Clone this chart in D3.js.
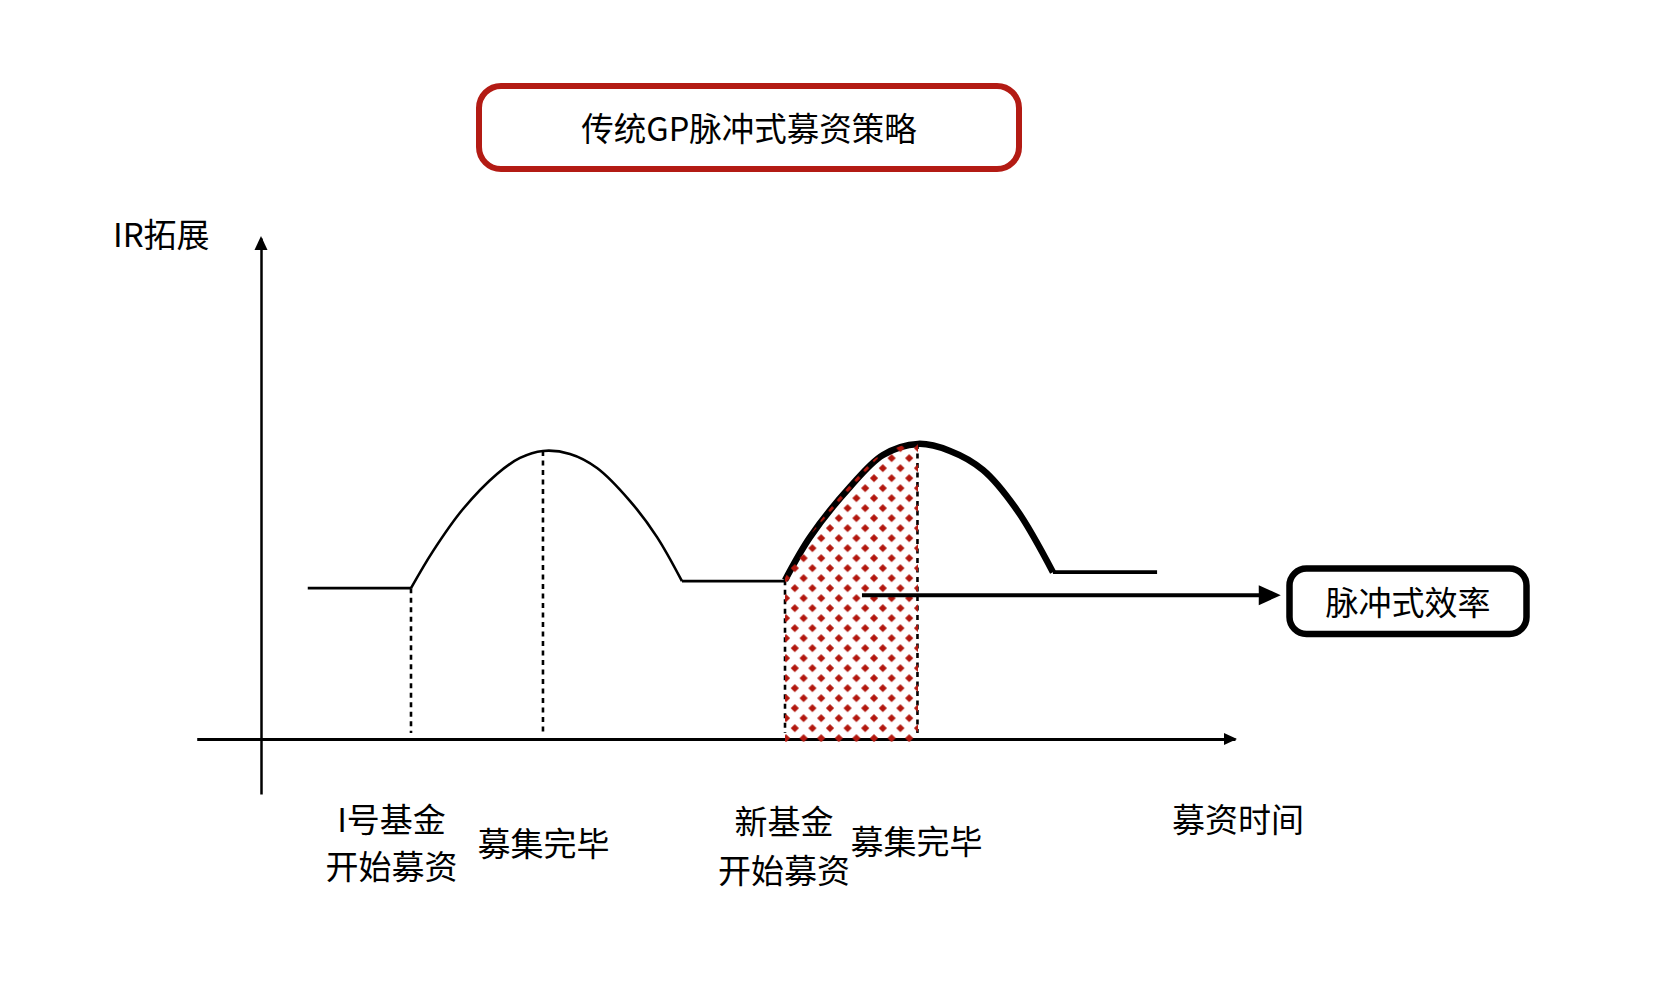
<!DOCTYPE html>
<html>
<head>
<meta charset="utf-8">
<script src="https://cdn.jsdelivr.net/npm/d3@7"></script>
<style>
  html, body { margin: 0; padding: 0; background: #ffffff; }
  svg { display: block; }
  text { font-family: "Noto Sans CJK SC", "Noto Sans", sans-serif; fill: #000; font-weight: 400; }
</style>
</head>
<body>
<script>
// ---------- data (time units on x, IR expansion level on y) ----------
const flat1 = [[4.8, 30.1], [15.4, 30.1]];
const hump1 = [[15.4, 30.1], [17.66, 37.5], [20.74, 45.9], [24.23, 52.9], [26.59, 56.1], [28.95, 57.5],
               [31.72, 56.9], [34.5, 54.1], [37.89, 47.5], [40.66, 40.3], [43.22, 31.5]];
const flat2 = [[43.22, 31.5], [53.8, 31.5]];
const hump2 = [[53.8, 31.7], [56.37, 40.3], [60.47, 50.3], [63.86, 56.7], [67.45, 58.9],
               [70.74, 57.5], [74.13, 53.7], [77.62, 45.7], [81.31, 33.3]];
const flat3 = [[81.31, 33.3], [92.0, 33.3]];
const markerTimes = [15.4, 28.95, 53.8, 67.4];
const markerLevels = [30.1, 57.5, 31.7, 58.9];
const shadedEnd = 67.45;
const efficiencyArrow = [[61.7, 28.7], [104.7, 28.7]];

const titleText = "传统GP脉冲式募资策略";
const yAxisTitle = "IR拓展";
const xAxisTitle = "募资时间";
const boxText = "脉冲式效率";
const eventLabels = [
  { t: 13.4, lines: ["I号基金", "开始募资"], dy: [79, 126] },
  { t: 29.0, lines: ["募集完毕"], dy: [103] },
  { t: 53.7, lines: ["新基金", "开始募资"], dy: [81, 130] },
  { t: 67.3, lines: ["募集完毕"], dy: [101] }
];

// ---------- layout ----------
const W = 1654, H = 984;
const svg = d3.select("body").append("svg").attr("width", W).attr("height", H);

const x = d3.scaleLinear().domain([0, 100]).range([261, 1235]);
const y = d3.scaleLinear().domain([0, 100]).range([739, 238]);

const defs = svg.append("defs");
const pw = 17.6, ph = 20, r = 4.1;
const pat = defs.append("pattern")
  .attr("id", "dots").attr("patternUnits", "userSpaceOnUse")
  .attr("width", pw).attr("height", ph)
  .attr("x", x(53.8) + 1).attr("y", y(31.7) - 2);
const diamond = (cx, cy) => `M${cx},${cy - r}L${cx + r},${cy}L${cx},${cy + r}L${cx - r},${cy}Z`;
pat.append("path").attr("d", diamond(0, 0) + diamond(pw, 0) + diamond(0, ph) + diamond(pw, ph) + diamond(pw / 2, ph / 2))
  .attr("fill", "#b3180f");

// ---------- axes (library axes without ticks) ----------
const xAxisScale = x.copy().domain([-6.6, 100]).range([x(-6.6), x(100)]);
const yAxisScale = y.copy().domain([-11, 100]).range([y(-11), y(100)]);

svg.append("g").attr("transform", `translate(0,${y(0)})`)
  .call(d3.axisBottom(xAxisScale).tickValues([]).tickSizeOuter(0))
  .call(g => g.select(".domain").attr("stroke", "#000").attr("stroke-width", 3));
svg.append("g").attr("transform", `translate(${x(0)},0)`)
  .call(d3.axisLeft(yAxisScale).tickValues([]).tickSizeOuter(0))
  .call(g => g.select(".domain").attr("stroke", "#000").attr("stroke-width", 2.5));

// arrowheads
const xt = x(100), yt0 = y(0);
svg.append("path").attr("d", `M${xt + 2},${yt0}L${xt - 11},${yt0 - 6}L${xt - 11},${yt0 + 6}Z`).attr("fill", "#000");
const yx = x(0), yt = y(100);
svg.append("path").attr("d", `M${yx},${yt - 2}L${yx - 6.5},${yt + 12}L${yx + 6.5},${yt + 12}Z`).attr("fill", "#000");

// ---------- dashed markers ----------
svg.selectAll("line.marker").data(markerTimes).join("line")
  .attr("class", "marker")
  .attr("x1", d => x(d)).attr("x2", d => x(d))
  .attr("y1", (d, i) => y(markerLevels[i])).attr("y2", y(0) - 6)
  .attr("stroke", "#000").attr("stroke-width", 2.6).attr("stroke-dasharray", "5,4.5");

// ---------- curves ----------
const lineGen = d3.line().x(d => x(d[0])).y(d => y(d[1])).curve(d3.curveCatmullRom.alpha(0.5));
const straight = d3.line().x(d => x(d[0])).y(d => y(d[1]));

svg.append("path").attr("d", straight(flat1)).attr("fill", "none").attr("stroke", "#000").attr("stroke-width", 2.8);
svg.append("path").attr("d", lineGen(hump1)).attr("fill", "none").attr("stroke", "#000").attr("stroke-width", 2.6);
svg.append("path").attr("d", straight(flat2)).attr("fill", "none").attr("stroke", "#000").attr("stroke-width", 2.8);
svg.append("path").attr("d", lineGen(hump2)).attr("fill", "none").attr("stroke", "#000").attr("stroke-width", 6.5).attr("stroke-linejoin", "round");
svg.append("path").attr("d", straight(flat3)).attr("fill", "none").attr("stroke", "#000").attr("stroke-width", 3.6);

// ---------- shaded area under rising part of new fund ----------
const riseData = hump2.filter(d => d[0] <= shadedEnd);
const areaGen = d3.area().x(d => x(d[0])).y0(y(0) + 3).y1(d => y(d[1]) - 2).curve(d3.curveCatmullRom.alpha(0.5));
svg.append("path").attr("d", areaGen(riseData)).attr("fill", "url(#dots)");

// ---------- efficiency arrow ----------
const a0 = efficiencyArrow[0], a1 = efficiencyArrow[1];
const ax0 = x(a0[0]), ax1 = x(a1[0]), ay = y(a0[1]);
svg.append("line").attr("x1", ax0).attr("x2", ax1 - 20).attr("y1", ay).attr("y2", ay)
  .attr("stroke", "#000").attr("stroke-width", 4);
svg.append("path").attr("d", `M${ax1},${ay}L${ax1 - 22},${ay - 10}L${ax1 - 22},${ay + 10}Z`).attr("fill", "#000");

// efficiency box
svg.append("rect").attr("x", 1289.5).attr("y", 568.5).attr("width", 237).attr("height", 65.5)
  .attr("rx", 17).attr("fill", "#fff").attr("stroke", "#000").attr("stroke-width", 6.5);
svg.append("text").attr("x", 1408).attr("y", 601).attr("text-anchor", "middle")
  .attr("dominant-baseline", "central").attr("font-size", 33).text(boxText);

// ---------- title box ----------
svg.append("rect").attr("x", 479).attr("y", 86).attr("width", 540).attr("height", 83)
  .attr("rx", 22).attr("fill", "#fff").attr("stroke", "#b31b14").attr("stroke-width", 6);
svg.append("text").attr("x", 749).attr("y", 126).attr("text-anchor", "middle")
  .attr("dominant-baseline", "central").attr("font-size", 32.5).text(titleText);

// ---------- axis titles ----------
svg.append("text").attr("x", 113).attr("y", 233).attr("dominant-baseline", "central")
  .attr("font-size", 33).text(yAxisTitle);
svg.append("text").attr("x", 1238).attr("y", 818).attr("text-anchor", "middle")
  .attr("dominant-baseline", "central").attr("font-size", 33).text(xAxisTitle);

// ---------- event labels ----------
eventLabels.forEach(l => {
  l.lines.forEach((s, i) => {
    svg.append("text").attr("x", x(l.t)).attr("y", y(0) + l.dy[i])
      .attr("text-anchor", "middle").attr("dominant-baseline", "central")
      .attr("font-size", 33).text(s);
  });
});
</script>
</body>
</html>
